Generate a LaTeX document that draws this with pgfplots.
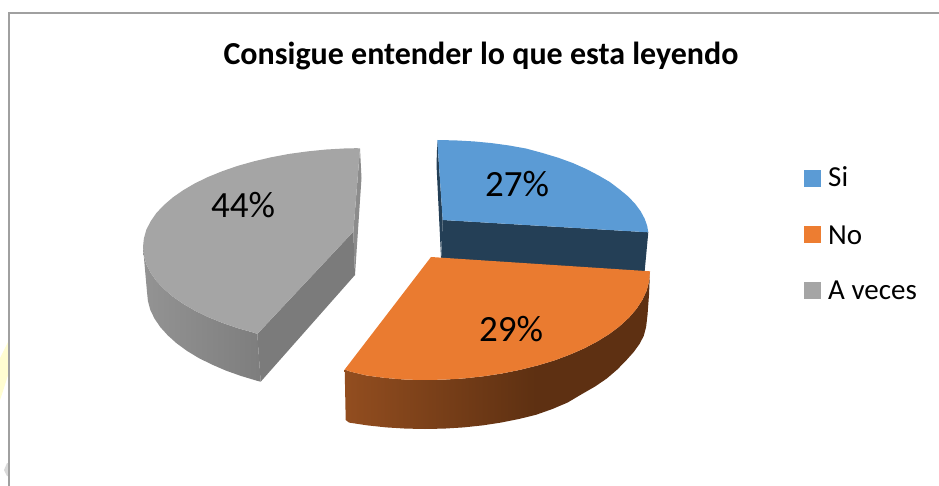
\documentclass[border=0pt]{standalone}
\usepackage{pgfplots}
\pgfplotsset{compat=1.18}
\usepackage{fontspec}
\setmainfont{Carlito}
\definecolor{pblue}{HTML}{5B9BD5}
\definecolor{pbluedark}{HTML}{243F56}
\definecolor{porange}{HTML}{EA7B30}
\definecolor{lorange}{HTML}{ED7D31}
\definecolor{pgray}{HTML}{A5A5A5}
\definecolor{pgraycut}{HTML}{7B7B7B}
\definecolor{psliver}{HTML}{8C8C8C}
\definecolor{frameg}{HTML}{A0A0A0}
\pgfdeclarehorizontalshading{orangewall}{100bp}{rgb(0bp)=(0.69,0.37,0.15); rgb(15bp)=(0.64,0.34,0.14); rgb(56bp)=(0.37,0.19,0.07); rgb(100bp)=(0.37,0.19,0.07)}
\pgfdeclarehorizontalshading{graywall}{100bp}{rgb(0bp)=(0.62,0.62,0.62); rgb(100bp)=(0.45,0.45,0.45)}
\begin{document}
\begin{tikzpicture}
\begin{axis}[
  scale only axis, width=939pt, height=486pt,
  xmin=0, xmax=939, ymin=0, ymax=486, y dir=reverse,
  ticks=none, axis line style={draw=none},
  clip=true,
  every axis plot/.append style={line width=0pt, mark=none},
]
% soft marks at the left edge
\addplot[fill=yellow!18, draw=none] coordinates {(0,400)(4,388)(9,372)(9,340)(4,350)(0,358)} --cycle;
\addplot[fill=gray!30, draw=none] coordinates {(4,470)(7,463)(9,463)(9,476)(7,476)} --cycle;
% frame
\addplot[color=frameg, line width=1.4pt] coordinates {(9,486)(9,13)(939,13)};
% gray wall
\addplot[shade, shading=graywall, draw=none] coordinates {(143,247)(143.9,255.6)(146.3,264.2)(150.6,272.6)(156.3,280.9)(163.9,288.9)(172.7,296.5)(183.2,303.8)(195,310.7)(208,317)(222.3,322.8)(237.6,328.1)(254,332.7)(257.3,334)(260.7,381.7)(257.5,380.9)(241.1,376)(225.9,370.6)(211.8,364.5)(198.7,358)(187,350.9)(176.6,343.3)(167.8,335.4)(160.3,327.1)(154.5,318.6)(150.3,309.9)(147.9,300.9)(147,292)} --cycle;
% gray cut faces
\addplot[fill=psliver, draw=none] coordinates {(360,149)(361.5,178)(355,275)(353.3,231.7)} --cycle;
\addplot[fill=pgraycut, draw=none] coordinates {(257.3,334)(353.3,231.7)(355,275)(260.7,381.7)} --cycle;
% gray top
\addplot[fill=pgray, draw=none] coordinates {(360,148.5)(357,148.2)(345.7,148.4)(326.4,149.5)(307.5,151.4)(289.1,153.9)(271.1,157.3)(254,161.3)(237.6,165.9)(222.3,171.2)(208,177)(195,183.3)(183.2,190.2)(172.7,197.5)(163.9,205.1)(156.3,213.1)(150.6,221.4)(146.3,229.8)(143.9,238.4)(143,247)(143.9,255.6)(146.3,264.2)(150.6,272.6)(156.3,280.9)(163.9,288.9)(172.7,296.5)(183.2,303.8)(195,310.7)(208,317)(222.3,322.8)(237.6,328.1)(254,332.7)(257.3,334)(353.3,231.7)} --cycle;
% blue cut faces
\addplot[fill=pbluedark, draw=none] coordinates {(437.3,140.7)(436.5,165)(441,257.3)(442.7,220)} --cycle;
\addplot[fill=pbluedark, draw=none] coordinates {(442.7,220)(648.3,232.3)(644.3,275)(441,262)} --cycle;
% blue top
\addplot[fill=pblue, draw=none] coordinates {(437.3,140)(455.4,140.4)(473.7,141.4)(491.6,143.1)(509.2,145.5)(526.3,148.6)(542.5,153)(558.1,157.7)(572.7,163)(586.2,169)(598.6,175.5)(609.8,182)(619.7,189.5)(628.2,196.5)(635.3,204)(640.8,211.5)(644.8,219)(647.2,226)(648.3,232.3)(442.7,220)} --cycle;
% orange wall
\addplot[shade, shading=orangewall, draw=none] coordinates {(650,271.3)(649.1,281.4)(646.6,290.8)(642.3,300)(636.5,308.9)(628.9,317.7)(619.9,326)(609.3,334)(597.4,341.4)(584.1,348.4)(569.7,354.7)(554.2,360.5)(537.5,365.5)(520.2,369.8)(502,373.5)(483.3,376.3)(464.2,378.4)(444.6,379.6)(425,380)(405.4,379.6)(385.8,378)(366.7,375.5)(350,371.5)(344.7,369.5)(345.7,420)(349.1,422.6)(367.5,425.4)(386.4,427.4)(405.7,428.6)(425,429)(444.3,428.6)(463.6,427.4)(482.5,425.4)(500.9,422.6)(518.9,419)(536,414.8)(552.4,409)(567.7,402.5)(582,394)(595.1,386.5)(606.8,378.5)(617.3,369.5)(626.1,360.5)(633.7,352)(639.5,344)(643.7,336)(646.1,327)(647.5,315)(649,295)} --cycle;
% orange top
\addplot[fill=porange, draw=none] coordinates {(431,257)(650,271.3)(649.1,281.4)(646.6,290.8)(642.3,300)(636.5,308.9)(628.9,317.7)(619.9,326)(609.3,334)(597.4,341.4)(584.1,348.4)(569.7,354.7)(554.2,360.5)(537.5,365.5)(520.2,369.8)(502,373.5)(483.3,376.3)(464.2,378.4)(444.6,379.6)(425,380)(405.4,379.6)(385.8,378)(366.7,375.5)(350,371.5)(344.7,369.5)} --cycle;
% legend keys
\addplot[fill=pblue, draw=none] coordinates {(804,170)(821,170)(821,187)(804,187)} --cycle;
\addplot[fill=lorange, draw=none] coordinates {(804,226)(821,226)(821,243)(804,243)} --cycle;
\addplot[fill=pgray, draw=none] coordinates {(804,282)(821,282)(821,299)(804,299)} --cycle;
% texts
\node[anchor=center, inner sep=0pt] at (axis cs:481,56) {\fontsize{32}{36}\selectfont\bfseries Consigue entender lo que esta leyendo};
\node[anchor=base, inner sep=0pt] at (axis cs:243,218) {\fontsize{37}{40}\selectfont 44\%};
\node[anchor=base, inner sep=0pt] at (axis cs:517,197) {\fontsize{37}{40}\selectfont 27\%};
\node[anchor=base, inner sep=0pt] at (axis cs:511,341) {\fontsize{37}{40}\selectfont 29\%};
\node[anchor=base west, inner sep=0pt] at (axis cs:828,187) {\fontsize{29}{32}\selectfont Si};
\node[anchor=base west, inner sep=0pt] at (axis cs:828,244) {\fontsize{29}{32}\selectfont No};
\node[anchor=base west, inner sep=0pt] at (axis cs:828,299) {\fontsize{29}{32}\selectfont A veces};
\end{axis}
\end{tikzpicture}
\end{document}
